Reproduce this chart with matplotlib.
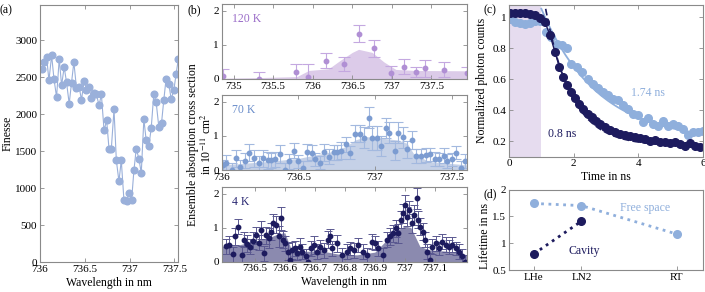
import numpy as np
import matplotlib
matplotlib.use("Agg")
import matplotlib.pyplot as plt
from matplotlib.ticker import FuncFormatter

plt.rcParams['font.family'] = ['Liberation Serif', 'DejaVu Serif']
plt.rcParams['mathtext.fontset'] = 'stix'
plt.rcParams['font.size'] = 8.5

# ---- (a) finesse vs wavelength
a_wl = [736.026, 736.044, 736.074, 736.100, 736.130, 736.156, 736.185, 736.215,
        736.241, 736.270, 736.296, 736.326, 736.352, 736.378, 736.407, 736.437,
        736.463, 736.493, 736.519, 736.544, 736.574, 736.604, 736.630, 736.659,
        736.685, 736.715, 736.744, 736.770, 736.796, 736.826, 736.852, 736.881,
        736.907, 736.937, 736.967, 736.993, 737.022, 737.048, 737.074, 737.104,
        737.130, 737.159, 737.185, 737.215, 737.241, 737.270, 737.296, 737.326,
        737.356, 737.381, 737.407, 737.437, 737.463, 737.493, 737.519, 737.544]
a_fin = [2616, 2706, 2774, 2458, 2797, 2481, 2233, 2752, 2391, 2639, 2436, 2143,
         2427, 2706, 2359, 2368, 2197, 2449, 2332, 2368, 2224, 2287, 2269, 2120,
         2269, 1782, 1917, 1534, 1534, 2066, 1376, 1092, 1376, 834, 821, 934,
         834, 1240, 1534, 1398, 1204, 1935, 1646, 1570, 1813, 2278, 2165, 1827,
         1881, 2188, 2481, 2413, 2210, 2323, 2548, 2752]

# ---- (b) 120 K
k120_wl = [734.86, 735.32, 735.79, 735.94, 736.17, 736.40, 736.58, 736.78,
           736.99, 737.16, 737.31, 737.42, 737.66, 737.95]
k120_s = [0.09, 0.0, 0.2, 0.05, 0.53, 0.44, 1.33, 0.9, 0.19, 0.36, 0.2, 0.32, 0.27, 0.18]
k120_err = [0.2, 0.2, 0.25, 0.4, 0.22, 0.21, 0.25, 0.25, 0.18, 0.22, 0.15, 0.25, 0.22, 0.18]
k120_fill_wl = [734.8, 735.3, 735.8, 735.95, 736.2, 736.35, 736.5, 736.58, 736.75,
                736.9, 737.05, 737.3, 737.95]
k120_fill = [0.02, 0.04, 0.07, 0.25, 0.3, 0.55, 0.78, 0.87, 0.78, 0.5, 0.28, 0.25, 0.24]

# ---- (b) 70 K
k70_wl = [736.006, 736.03, 736.065, 736.09, 736.12, 736.15, 736.18, 736.21, 736.24,
          736.27, 736.30, 736.32, 736.35, 736.38, 736.41, 736.44, 736.47, 736.50,
          736.53, 736.555, 736.59, 736.61, 736.64, 736.67, 736.70, 736.73, 736.755,
          736.78, 736.81, 736.84, 736.87, 736.90, 736.93, 736.96, 736.98, 737.01,
          737.04, 737.07, 737.09, 737.13, 737.15, 737.18, 737.21, 737.24, 737.27,
          737.30, 737.33, 737.36, 737.39, 737.42, 737.45, 737.47, 737.50, 737.53,
          737.56, 737.586]
k70_s = [0.15, 0.22, 0.0, 0.34, 0.08, 0.27, 0.51, 0.34, 0.2, 0.34, 0.29, 0.29, 0.32,
         0.47, 0.0, 0.25, 0.57, 0.25, 0.05, 0.52, 0.51, 0.31, 0.22, 0.52, 0.39, 0.52,
         0.52, 0.57, 0.76, 0.51, 1.06, 1.06, 0.95, 1.54, 0.95, 0.95, 0.71, 1.23, 1.1,
         0.57, 1.1, 0.96, 0.61, 0.88, 0.42, 0.42, 0.44, 0.46, 0.32, 0.31, 0.42, 0.27,
         0.31, 0.51, 0.05, 0.27]
k70_err = [0.15, 0.22, 0.2, 0.25, 0.2, 0.22, 0.25, 0.25, 0.2, 0.25, 0.25, 0.22, 0.22,
           0.25, 0.2, 0.22, 0.22, 0.2, 0.2, 0.25, 0.22, 0.2, 0.2, 0.25, 0.22, 0.22,
           0.22, 0.25, 0.22, 0.2, 0.25, 0.25, 0.3, 0.32, 0.35, 0.35, 0.3, 0.3, 0.3,
           0.28, 0.3, 0.3, 0.25, 0.25, 0.2, 0.2, 0.2, 0.2, 0.2, 0.2, 0.22, 0.2, 0.2,
           0.18, 0.2, 0.2]
k70_fill_wl = [736.0, 736.3, 736.5, 736.72, 736.81, 736.87, 736.94, 737.05, 737.15,
               737.21, 737.25, 737.35, 737.6]
k70_fill = [0.15, 0.25, 0.34, 0.54, 0.69, 0.88, 0.98, 0.93, 0.88, 0.78, 0.49, 0.25, 0.15]

# ---- (b) 4 K
k4_wl = [736.404, 736.415, 736.426, 736.434, 736.445, 736.456, 736.464, 736.475,
         736.483, 736.494, 736.505, 736.514, 736.522, 736.53, 736.538, 736.547,
         736.555, 736.562, 736.571, 736.58, 736.588, 736.593, 736.602, 736.61,
         736.617, 736.624, 736.635, 736.642, 736.65, 736.659, 736.67, 736.678,
         736.686, 736.697, 736.708, 736.719, 736.73, 736.744, 736.752,
         736.758, 736.774, 736.79, 736.807, 736.818, 736.829, 736.845, 736.862,
         736.873, 736.889, 736.9, 736.911, 736.928, 736.939, 736.95, 736.961,
         736.972, 736.977, 736.986, 736.993, 737.001, 737.008, 737.015, 737.023,
         737.032, 737.04, 737.045, 737.051, 737.059, 737.067, 737.075, 737.083,
         737.092, 737.103, 737.114, 737.125, 737.136, 737.147, 737.158, 737.169,
         737.18, 737.191, 737.202]
k4_s = [0.46, 0.49, 0.22, 0.74, 1.03, 0.2, 0.64, 0.52, 0.44, 0.62, 0.78, 0.56, 0.93,
        0.25, 0.78, 0.69, 0.88, 1.13, 1.08, 0.74, 1.27, 0.64, 0.54, 0.29, 0.05, 0.34,
        0.39, 0.25, 0.44, 0.29, 0.17, 0.0, 0.39, 0.49, 0.29, 0.44, 0.34, 0.64, 0.74,
        0.39, 0.54, 0.2, 0.29, 0.39, 0.34, 0.49, 0.29, 0.2, 0.59, 0.54, 0.39, 0.2,
        0.64, 0.74, 0.83, 0.98, 0.83, 1.23, 1.42, 1.67, 1.32, 1.52, 1.13, 1.37, 1.86,
        1.23, 1.03, 0.88, 0.64, 0.29, 0.05, 0.44, 0.54, 0.39, 0.59, 0.49, 0.44, 0.49,
        0.39, 0.29, 0.17, 0.0]
k4_err = [0.22, 0.25, 0.22, 0.25, 0.22, 0.25, 0.22, 0.25, 0.22, 0.25, 0.25, 0.22,
          0.25, 0.22, 0.25, 0.3, 0.25, 0.28, 0.25, 0.3, 0.33, 0.25, 0.22, 0.25, 0.22,
          0.25, 0.22, 0.2, 0.25, 0.22, 0.2, 0.2, 0.22, 0.25, 0.22, 0.2, 0.22, 0.25,
          0.22, 0.22, 0.25, 0.2, 0.22, 0.2, 0.22, 0.2, 0.22, 0.2, 0.22, 0.2, 0.22,
          0.2, 0.22, 0.25, 0.25, 0.25, 0.28, 0.25, 0.28, 0.3, 0.28, 0.25, 0.28, 0.28,
          0.3, 0.25, 0.25, 0.25, 0.22, 0.22, 0.2, 0.22, 0.22, 0.2, 0.22, 0.22, 0.2,
          0.22, 0.2, 0.22, 0.2, 0.2]
k4_fill_wl = [736.39, 736.45, 736.5, 736.55, 736.58, 736.60, 736.62, 736.66, 736.72,
              736.78, 736.84, 736.9, 736.93, 736.97, 737.0, 737.02, 737.05, 737.08,
              737.15, 737.21]
k4_fill = [0.45, 0.5, 0.6, 0.72, 0.82, 0.85, 0.4, 0.3, 0.32, 0.22, 0.2, 0.28, 0.55,
           0.9, 1.05, 1.0, 0.45, 0.35, 0.3, 0.2]

# ---- (c) time traces
t_cav = [0.03, 0.18, 0.34, 0.49, 0.65, 0.80, 0.96, 1.11, 1.27, 1.42, 1.56, 1.68,
         1.81, 1.93, 2.04, 2.17, 2.30, 2.43, 2.56, 2.69, 2.82, 2.97, 3.13, 3.28,
         3.44, 3.59, 3.75, 3.90, 4.06, 4.21, 4.37, 4.52, 4.67, 4.83, 4.98, 5.14,
         5.29, 5.45, 5.60, 5.76, 5.91]
c_cav = [1.03, 1.03, 1.026, 1.026, 1.02, 1.013, 0.993, 0.97, 0.885, 0.777, 0.68,
         0.615, 0.565, 0.518, 0.479, 0.442, 0.409, 0.377, 0.355, 0.333, 0.312, 0.29,
         0.273, 0.258, 0.247, 0.24, 0.232, 0.225, 0.219, 0.214, 0.203, 0.208, 0.197,
         0.193, 0.186, 0.193, 0.182, 0.171, 0.186, 0.171, 0.164]
t_free = [0.03, 0.18, 0.34, 0.49, 0.65, 0.80, 0.96, 1.14, 1.30, 1.47, 1.63, 1.78,
          1.93, 2.09, 2.27, 2.45, 2.60, 2.76, 2.91, 3.07, 3.22, 3.38, 3.53, 3.69,
          3.84, 4.00, 4.15, 4.31, 4.46, 4.62, 4.77, 4.93, 5.08, 5.24, 5.39, 5.55,
          5.70, 5.86, 6.0]
c_free = [0.99, 0.97, 0.961, 0.96, 0.965, 0.975, 0.975, 0.907, 0.87, 0.831, 0.82,
          0.803, 0.70, 0.68, 0.647, 0.604, 0.571, 0.543, 0.521, 0.496, 0.474, 0.468,
          0.435, 0.409, 0.377, 0.37, 0.323, 0.349, 0.312, 0.301, 0.333, 0.296, 0.312,
          0.297, 0.279, 0.24, 0.258, 0.262, 0.268]
tau_cav, tau_free = 0.8, 1.74

# ---- (d) lifetimes
temps = ['LHe', 'LN2', 'RT']
free_life = [1.74, 1.70, 1.17]
cav_life = [0.8, 1.41]

navy = '#1d1b5e'
light = '#8fafdc'
purple = '#b08fd4'
fmt = FuncFormatter(lambda v, p: '%g' % v)
TS = 8      # tick labels
LS = 8.5    # axis labels


def frame(ax):
    for s in ax.spines.values():
        s.set_color('#8a8a8a')
        s.set_linewidth(0.8)
    ax.tick_params(direction='in', top=True, right=True, length=3, width=0.6,
                   color='#8a8a8a', labelsize=TS, pad=2)
    ax.xaxis.set_major_formatter(fmt)
    ax.yaxis.set_major_formatter(fmt)


fig = plt.figure(figsize=(7.05, 2.92), dpi=100)

# (a)
ax = fig.add_axes([0.0567, 0.1027, 0.1958, 0.8803])
ax.plot(a_wl, a_fin, '-o', color='#9ab0da', lw=0.8, ms=4.8)
ax.set_xlim(736.02, 737.54)
ax.set_ylim(0, 3480)
ax.set_xticks([736, 736.5, 737, 737.5])
ax.set_yticks(range(0, 3001, 500))
frame(ax)
ax.set_ylabel('Finesse', fontsize=LS, labelpad=1)
ax.set_xlabel('Wavelength in nm', fontsize=LS, labelpad=2)

# (b)
bl, bw = 0.3145, 0.3479
ax1 = fig.add_axes([bl, 0.7295, bw, 0.2568])
ax1.fill_between(k120_fill_wl, k120_fill, color='#dccbe9', lw=0)
ax1.errorbar(k120_wl, k120_s, yerr=k120_err, fmt='o', ms=3.2, color=purple,
             ecolor='#c4a8e0', elinewidth=0.8, capsize=4.5, capthick=0.8)
ax1.set_xlim(734.85, 737.95)
ax1.set_ylim(0, 2.2)
ax1.set_xticks([735, 735.5, 736, 736.5, 737, 737.5])
ax1.set_yticks([0, 1, 2])
frame(ax1)
ax1.text(0.04, 0.8, '120 K', transform=ax1.transAxes, color='#9a6cc8', fontsize=LS,
         va='center')

ax2 = fig.add_axes([bl, 0.4178, bw, 0.2568])
ax2.fill_between(k70_fill_wl, k70_fill, color='#c5d1e7', lw=0)
ax2.errorbar(k70_wl, k70_s, yerr=k70_err, fmt='o', ms=3.2, color='#7c9cd1',
             ecolor='#a3b9df', elinewidth=0.8, capsize=3.5, capthick=0.8)
ax2.set_xlim(736.0, 737.6)
ax2.set_ylim(0, 2.2)
ax2.set_xticks([736, 736.5, 737, 737.5])
ax2.set_yticks([0, 1, 2])
frame(ax2)
ax2.text(0.04, 0.8, '70 K', transform=ax2.transAxes, color='#6a8dca', fontsize=LS,
         va='center')

ax3 = fig.add_axes([bl, 0.1038, bw, 0.2568])
ax3.fill_between(k4_fill_wl, k4_fill, color='#8b8aaf', lw=0)
ax3.errorbar(k4_wl, k4_s, yerr=k4_err, fmt='o', ms=3.2, color=navy,
             ecolor='#5a5890', elinewidth=0.7, capsize=3, capthick=0.7)
ax3.set_xlim(736.39, 737.207)
ax3.set_ylim(0, 2.2)
ax3.set_xticks([736.5, 736.6, 736.7, 736.8, 736.9, 737, 737.1])
ax3.set_yticks([0, 1, 2])
frame(ax3)
ax3.text(0.04, 0.79, '4 K', transform=ax3.transAxes, color='#2a2872', fontsize=LS,
         va='center')
ax3.set_xlabel('Wavelength in nm', fontsize=LS, labelpad=2)
fig.text(0.285, 0.505, 'Ensemble absorption cross section\nin 10$^{-11}$ cm$^2$',
         rotation=90, ha='center', va='center', fontsize=LS, linespacing=1.05)

# (c)
axc = fig.add_axes([0.722, 0.4634, 0.275, 0.5196])
axc.axvspan(0, 1, color='#e6dcef', lw=0)
tt = np.linspace(1.0, 6, 200)
axc.plot(tt, 0.2 + 0.72 * np.exp(-(tt - 1.3) / tau_free), '-', color=light, lw=1.3)
axc.plot(t_free, c_free, 'o', color=light, ms=5.5)
axc.plot(tt, 0.17 + 1.047 * np.exp(-(tt - 1) / tau_cav), '--', color=navy, lw=1.2,
         dashes=(4, 2))
axc.plot(t_cav, c_cav, '-o', color=navy, ms=5.5, lw=1)
axc.set_xlim(0, 6)
axc.set_ylim(0.1, 1.08)
axc.set_xticks([0, 2, 4, 6])
axc.set_yticks([0.2, 0.4, 0.6, 0.8, 1])
frame(axc)
axc.text(4.3, 0.49, '%g ns' % tau_free, color=light, fontsize=LS, ha='center')
axc.text(1.65, 0.225, '%g ns' % tau_cav, color=navy, fontsize=LS, ha='center')
axc.set_xlabel('Time in ns', fontsize=LS, labelpad=2)
axc.set_ylabel('Normalized photon counts', fontsize=LS, labelpad=3)

# (d)
axd = fig.add_axes([0.722, 0.0753, 0.275, 0.2757])
xpos = [0, 1, 3]
axd.plot(xpos, free_life, ':o', color=light, ms=5.5, lw=2)
axd.plot(xpos[:2], cav_life, ':o', color=navy, ms=5.5, lw=2)
frame(axd)
axd.tick_params(top=False, right=False)
axd.set_xlim(-0.52, 3.55)
axd.set_ylim(0.5, 2)
axd.set_xticks(xpos)
axd.set_xticklabels(temps)
axd.set_yticks([0.5, 1, 1.5, 2])
axd.text(1.8, 1.66, 'Free space', color=light, fontsize=LS, va='center')
axd.text(0.72, 0.86, 'Cavity', color=navy, fontsize=LS, va='center')
axd.set_ylabel('Lifetime in ns', fontsize=LS, labelpad=3)
axd.yaxis.set_label_coords(-0.095, 0.42)

for lab, x, y in [('(a)', 0.0, 0.985), ('(b)', 0.266, 0.985), ('(c)', 0.686, 0.985),
                  ('(d)', 0.686, 0.355)]:
    fig.text(x, y, lab, fontsize=LS, va='top')

fig.savefig('out.png', dpi=100)
